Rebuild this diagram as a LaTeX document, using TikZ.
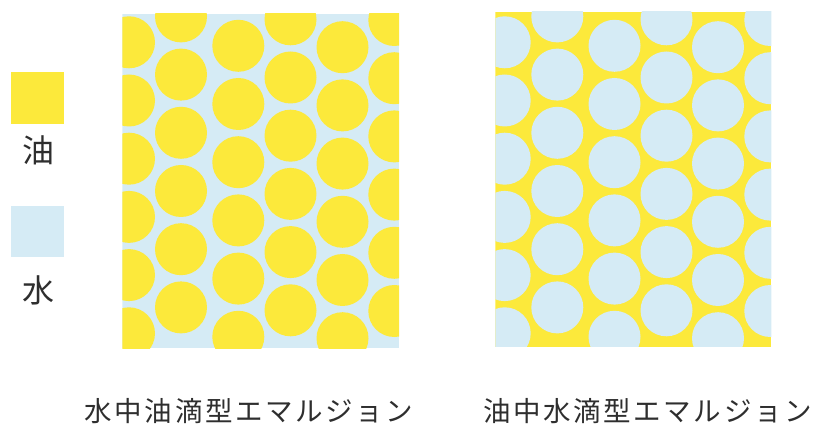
\documentclass[tikz,border=0pt]{standalone}
\usepackage{fontspec}
\newfontfamily\jp{Noto Sans CJK JP}
\definecolor{oil}{HTML}{FCE93B}
\definecolor{water}{HTML}{D5EBF5}
\definecolor{txt}{HTML}{2E2E2E}
\newcommand{\gp}{\kern2.6pt}
\tikzset{
  legendlabel/.style={font=\jp\fontsize{32}{32}\selectfont, text=txt, inner sep=0pt},
  caption/.style={font=\jp\fontsize{27.5}{27.5}\selectfont, text=txt, inner sep=0pt},
  oildrop/.style={fill=oil},
  waterdrop/.style={fill=water}
}
\begin{document}
\begin{tikzpicture}[x=1pt,y=-1pt]
\useasboundingbox (0,0) rectangle (813,427);
% legend
\fill[oil] (11,72.3) rectangle (64,124.3);
\node[legendlabel] (oillabel) at (38.3,150.3) {油};
\fill[water] (11,205.7) rectangle (64,257.3);
\node[legendlabel] (waterlabel) at (38.3,290) {水};
% oil-in-water
\begin{scope}
  \clip (122.3,14) rectangle (399,348.3);
  \fill[water] (122.3,14) rectangle (399,348.3);
  \foreach \cx/\cy in {129/42.3, 181/16.4, 238.3/45.8, 290.5/19.3, 342.5/47.2, 394.3/20}{
    \foreach \k in {0,...,5}{
      \fill[oildrop] (\cx,{\cy+58.2*\k}) circle[radius=26pt];
    }
  }
\end{scope}
% water-in-oil
\begin{scope}
  \clip (495.3,11.7) rectangle (771.3,346.7);
  \fill[oil] (495.3,11.7) rectangle (771.3,346.7);
  \foreach \cx/\cy in {504.7/42.3, 557.3/16.4, 614.5/45.8, 666.5/19.3, 718/47.2, 770.3/20}{
    \foreach \k in {0,...,5}{
      \fill[waterdrop] (\cx,{\cy+58.2*\k}) circle[radius=26pt];
    }
  }
\end{scope}
% captions
\node[caption] (owcap) at (249,411.5) {水\gp 中\gp 油\gp 滴\gp 型\gp エ\gp マ\gp ル\gp ジ\gp ョ\gp ン};
\node[caption] (wocap) at (647.5,411.5) {油\gp 中\gp 水\gp 滴\gp 型\gp エ\gp マ\gp ル\gp ジ\gp ョ\gp ン};
\end{tikzpicture}
\end{document}
